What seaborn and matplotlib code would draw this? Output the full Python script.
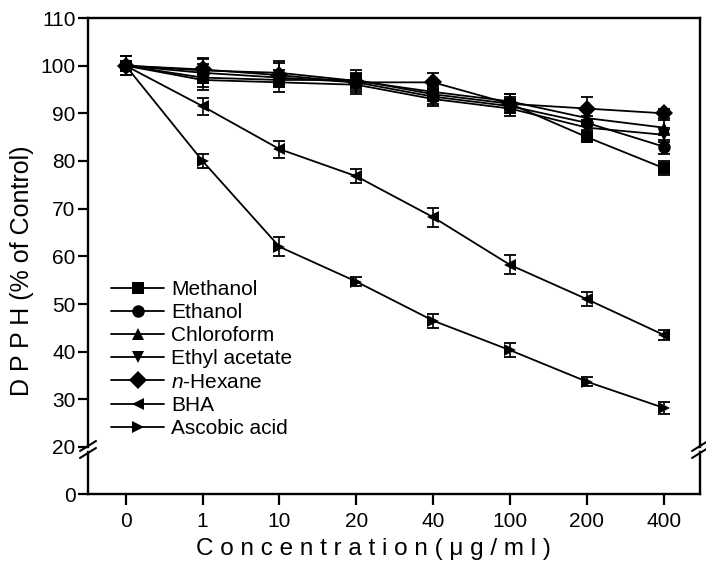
import numpy as np
import pandas as pd
import matplotlib
matplotlib.use("Agg")
import matplotlib.pyplot as plt
from matplotlib.lines import Line2D
import seaborn as sns

# ---- data ----
conc_labels = ["0", "1", "10", "20", "40", "100", "200", "400"]
series_names = ["Methanol", "Ethanol", "Chloroform", "Ethyl acetate",
                r"$\it{n}$-Hexane", "BHA", "Ascobic acid"]
methanol = [100, 97.5, 97.0, 97.0, 94.0, 92.0, 85.0, 78.5]
ethanol = [100, 98.5, 97.5, 96.5, 93.5, 91.5, 88.0, 83.0]
chloroform = [100, 99.0, 98.5, 96.8, 94.5, 92.5, 89.0, 87.0]
ethyl_acetate = [100, 97.0, 96.5, 96.0, 93.0, 91.0, 87.0, 85.5]
hexane = [100, 99.2, 98.0, 96.5, 96.5, 92.0, 91.0, 90.0]
bha = [100, 91.5, 82.5, 76.8, 68.2, 58.2, 51.0, 43.5]
ascorbic = [100, 80.0, 62.0, 54.7, 46.5, 40.3, 33.7, 28.2]

err_methanol = [2.0, 2.0, 1.5, 1.5, 1.5, 1.5, 1.0, 1.5]
err_ethanol = [2.0, 1.8, 1.5, 1.5, 1.5, 1.5, 1.5, 1.5]
err_chloroform = [2.0, 2.5, 2.5, 1.5, 1.5, 1.5, 1.5, 1.5]
err_ethyl_acetate = [2.0, 2.0, 2.0, 1.5, 1.5, 1.5, 1.5, 1.5]
err_hexane = [2.0, 2.5, 2.5, 2.5, 2.0, 2.0, 2.5, 1.0]
err_bha = [2.0, 1.8, 1.8, 1.5, 2.0, 2.0, 1.5, 1.0]
err_ascorbic = [2.0, 1.5, 2.0, 1.0, 1.5, 1.5, 1.0, 1.2]

values = [methanol, ethanol, chloroform, ethyl_acetate, hexane, bha, ascorbic]
errors = [err_methanol, err_ethanol, err_chloroform, err_ethyl_acetate,
          err_hexane, err_bha, err_ascorbic]
marker_list = ["s", "o", "^", "v", "D", "<", ">"]

rows = []
for name, vals, errs in zip(series_names, values, errors):
    for i, (v, e) in enumerate(zip(vals, errs)):
        rows.append({"pos": i, "value": v, "err": e, "series": name})
df = pd.DataFrame(rows)

# ---- style ----
sns.set_theme(style="ticks")
plt.rcParams["font.family"] = ["Liberation Sans", "DejaVu Sans"]
plt.rcParams["mathtext.fontset"] = "custom"
plt.rcParams["mathtext.rm"] = "Liberation Sans"
plt.rcParams["mathtext.it"] = "Liberation Sans:italic"
plt.rcParams["text.color"] = "black"
plt.rcParams["axes.labelcolor"] = "black"

W, H = 706, 568
fig = plt.figure(figsize=(W / 100, H / 100), dpi=100)
fig.patch.set_facecolor("white")

def fx(px):
    return px / W

def fy(py):
    return 1 - py / H

left_px, right_px = 88, 700
top_px, brk_top_px, brk_bot_px, bot_px = 18, 447, 452, 494
ax = fig.add_axes([fx(left_px), fy(brk_top_px), fx(right_px - left_px),
                   (brk_top_px - top_px) / H])
axb = fig.add_axes([fx(left_px), fy(bot_px), fx(right_px - left_px),
                    (bot_px - brk_bot_px) / H])

xlim = (-0.49, 7.47)
for a in (ax, axb):
    a.set_facecolor("white")
    for s in a.spines.values():
        s.set_linewidth(1.7)
        s.set_color("black")
    a.set_xlim(*xlim)

sns.lineplot(data=df, x="pos", y="value", style="series",
             markers=dict(zip(series_names, marker_list)), dashes=False,
             color="black", markersize=9, markeredgewidth=0, linewidth=1.3,
             ax=ax, legend=True, sort=False)
for name, vals, errs in zip(series_names, values, errors):
    sub = df[df["series"] == name]
    ax.errorbar(sub["pos"], sub["value"], yerr=sub["err"], fmt="none",
                ecolor="black", elinewidth=1.2, capsize=4, capthick=1.3)

ax.set_ylim(20, 110)
ax.set_yticks(np.arange(20, 111, 10))
ax.spines["bottom"].set_visible(False)
ax.tick_params(axis="x", bottom=False, labelbottom=False)
ax.tick_params(axis="y", direction="out", length=7, width=1.6,
               labelsize=15, colors="black", pad=2)
ax.set_xlabel("")
ax.set_ylabel("D P P H (% of Control)", fontsize=18, color="black")
ax.yaxis.set_label_coords(-0.088, 0.41)

axb.set_ylim(0, (bot_px - brk_bot_px) / ((brk_top_px - top_px) / 90))
axb.set_yticks([0])
axb.spines["top"].set_visible(False)
axb.set_xticks(range(len(conc_labels)))
axb.set_xticklabels(conc_labels)
axb.tick_params(axis="y", direction="out", length=7, width=1.6,
                labelsize=15, colors="black", pad=2)
axb.tick_params(axis="x", direction="out", length=8, width=1.6,
                labelsize=15, colors="black", pad=5)
axb.set_xlabel("C o n c e n t r a t i o n ( \u03bc g / m l )", fontsize=17.5,
               color="black")
axb.xaxis.set_label_coords(0.467, -1.05)

# legend
handles, labels = ax.get_legend_handles_labels()
leg = ax.legend(handles, labels, loc="upper left",
                bbox_to_anchor=(fx(111), fy(280)),
                bbox_transform=fig.transFigure,
                frameon=False, fontsize=15, handlelength=2.55,
                handletextpad=0.34, labelspacing=0.2, borderpad=0,
                borderaxespad=0)
for t in leg.get_texts():
    t.set_color("black")

# break marks
for xs in (left_px, right_px):
    for yc in (brk_top_px - 1, brk_bot_px + 1):
        fig.add_artist(Line2D([fx(xs - 8), fx(xs + 8)],
                              [fy(yc + 5), fy(yc - 5)],
                              color="black", linewidth=1.5))

fig.savefig("out.png", dpi=100, facecolor="white")
